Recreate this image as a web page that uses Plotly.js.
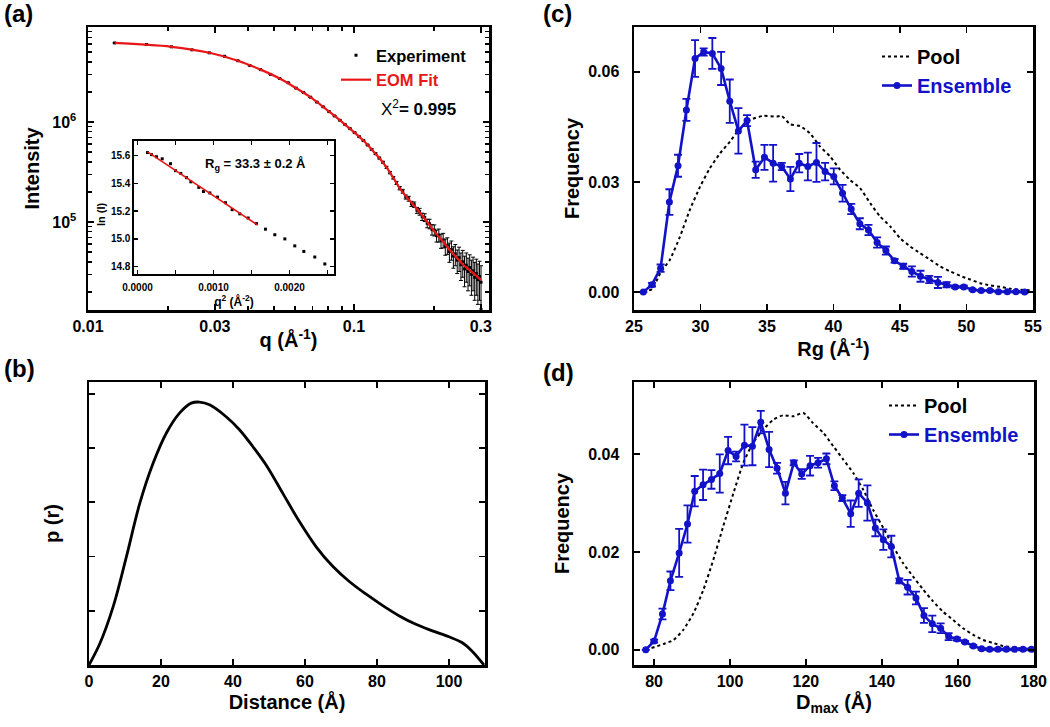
<!DOCTYPE html>
<html><head><meta charset="utf-8">
<script src="https://cdn.plot.ly/plotly-3.0.1.min.js"></script>
<style>html,body{margin:0;padding:0;background:#fff}#chart{width:1050px;height:727px}</style>
</head><body><div id="chart"></div>
<script>
// ---------- Panel (a): SAXS intensity ----------
const qExp = [0.0126,0.0166,0.0206,0.0246,0.0286,0.0326,0.0366,0.0406,0.0446,0.0486,
0.0526,0.0566,0.0606,0.0646,0.0686,0.0726,0.0766,0.0806,0.0846,0.0886,
0.0926,0.0966,0.1006,0.1046,0.1086,0.1126,0.1166,0.1206,0.1246,0.1286,
0.1326,0.1366,0.1406,0.1446,0.1486,0.1526,0.1566,0.1606,0.1646,0.1686,
0.1726,0.1766,0.1806,0.1846,0.1886,0.1926,0.1966,0.2006,0.2046,0.2086,
0.2126,0.2166,0.2206,0.2246,0.2286,0.2326,0.2366,0.2406,0.2446,0.2486,
0.2526,0.2566,0.2606,0.2646,0.2686,0.2726,0.2766,0.2806,0.2846,0.2886,
0.2926,0.2966,0.3006];
const iExp = [6.17e6,5.96e6,5.65e6,5.27e6,4.92e6,4.54e6,4.10e6,3.67e6,3.34e6,2.99e6,
2.72e6,2.47e6,2.18e6,1.97e6,1.77e6,1.58e6,1.42e6,1.27e6,1.15e6,1.04e6,
9.42e5,8.59e5,7.83e5,7.14e5,6.52e5,5.89e5,5.32e5,4.82e5,4.36e5,3.96e5,
3.52e5,3.12e5,2.77e5,2.46e5,2.18e5,2.03e5,1.78e5,1.71e5,1.52e5,1.49e5,
1.31e5,1.27e5,1.13e5,1.11e5,9.7e4,9.6e4,8.4e4,8.3e4,7.3e4,7.4e4,
6.5e4,6.6e4,5.7e4,5.85e4,5.05e4,5.3e4,4.55e4,4.8e4,4.15e4,4.4e4,
3.75e4,4.0e4,3.4e4,3.7e4,3.2e4,3.5e4,3.0e4,3.25e4,2.8e4,3.05e4,
2.65e4,2.85e4,2.5e4];
const errExp = [2.0e4,2.0e4,1.9e4,1.8e4,1.7e4,1.6e4,1.5e4,1.4e4,1.3e4,1.2e4,
1.2e4,1.1e4,1.1e4,1.0e4,1.0e4,9e3,9e3,9e3,8e3,8e3,
8e3,8e3,8e3,8e3,8e3,8e3,8e3,8e3,8e3,8e3,
8e3,8.5e3,8e3,9e3,8.5e3,9e3,8.5e3,9.5e3,9e3,9.5e3,
9e3,1.0e4,9.5e3,1.0e4,9.5e3,1.05e4,1.0e4,1.05e4,1.0e4,1.1e4,
1.05e4,1.1e4,1.05e4,1.1e4,1.1e4,1.15e4,1.1e4,1.15e4,1.1e4,1.2e4,
1.15e4,1.2e4,1.15e4,1.2e4,1.15e4,1.2e4,1.15e4,1.2e4,1.15e4,1.2e4,
1.15e4,1.2e4,1.15e4];
const fitQ = [0.0126,0.0206,0.0286,0.0366,0.0446,0.0526,0.0606,0.0686,0.0766,0.0846,
0.0926,0.1006,0.1086,0.1166,0.1246,0.1326,0.1406,0.1486,0.1566,0.1646,
0.1726,0.1806,0.1886,0.1966,0.2046,0.2126,0.2206,0.2286,0.2366,0.2446,
0.2526,0.2606,0.2686,0.2766,0.2846,0.2926,0.3006];
const fitI = [6.17e6,5.65e6,4.92e6,4.10e6,3.34e6,2.72e6,2.18e6,1.77e6,1.42e6,1.15e6,
9.42e5,7.83e5,6.52e5,5.32e5,4.36e5,3.52e5,2.77e5,2.18e5,1.82e5,1.56e5,
1.35e5,1.16e5,1.00e5,8.65e4,7.57e4,6.71e4,5.96e4,5.30e4,4.79e4,4.35e4,
3.96e4,3.63e4,3.40e4,3.19e4,2.99e4,2.81e4,2.63e4];
const xTicksA = [0.01,0.03,0.1,0.3];
const xTickTextA = ['0.01','0.03','0.1','0.3'];
const yTicksA = [1e5,1e6];
const yTickTextA = ['10<sup>5</sup>','10<sup>6</sup>'];

// Inset (Guinier)
const insetQ2 = [0.000132,0.000184,0.000250,0.000325,0.000434,0.000500,0.000570,0.000645,0.000702,0.000807,
0.000868,0.000952,0.001053,0.001158,0.001246,0.001346,0.001456,0.001566,0.001684,0.001807,
0.001939,0.002070,0.002189,0.002333,0.002465];
const insetLnI = [15.62,15.605,15.59,15.575,15.54,15.49,15.47,15.44,15.41,15.37,
15.34,15.33,15.30,15.26,15.21,15.18,15.15,15.11,15.07,15.03,
15.00,14.95,14.91,14.87,14.82];
const insetFitQ2 = [0.000132,0.00158];
const insetFitLnI = [15.625,15.10];
const insetXTicks = [0,0.001,0.002];
const insetXTickText = ['0.0000','0.0010','0.0020'];
const insetYTicks = [14.8,15.0,15.2,15.4,15.6];
const insetYTickText = ['14.8','15.0','15.2','15.4','15.6'];

// ---------- Panel (b): p(r) ----------
const prR = [0,3.05,6.74,10.4,14.1,17.8,21.5,25.2,28.4,30.7,33.5,38.1,41.8,45.5,49.2,53.8,58.4,63.1,67.7,72.3,76.9,81.5,86.1,90.8,95.4,100,103.7,106.5,109.7];
const prP = [0,0.40,1.08,2.0,2.98,3.72,4.28,4.65,4.83,4.85,4.80,4.58,4.34,4.03,3.69,3.17,2.65,2.18,1.82,1.54,1.31,1.10,0.91,0.75,0.63,0.52,0.41,0.25,0];

// ---------- Panel (c): Rg distribution ----------
const rgPoolX = [25.7,26.35,27.0,27.7,28.46,29.2,29.97,30.7,31.47,32.22,32.98,33.73,34.73,35.73,36.1,36.74,37.49,38.24,39.0,39.75,40.5,41.25,42.0,42.76,43.5,44.26,45.0,45.77,46.5,47.27,48.0,48.78,49.53,50.28,51.03,51.79,52.54,53.3,54.04,54.8];
const rgPoolY = [0.000,0.0008,0.0053,0.0088,0.0151,0.0224,0.0287,0.0337,0.0378,0.0410,0.0446,0.0469,0.0480,0.0478,0.0480,0.0457,0.0452,0.0432,0.0396,0.0369,0.0333,0.0305,0.0283,0.0242,0.0206,0.0179,0.0147,0.0124,0.0106,0.0088,0.0070,0.0056,0.0044,0.0034,0.0024,0.0018,0.0014,0.0009,0.0006,0.0005];
const rgEnsX = [25.7,26.35,27.0,27.66,28.31,28.94,29.59,30.24,30.89,31.55,32.2,32.85,33.5,34.15,34.81,35.46,36.11,36.76,37.42,38.07,38.72,39.37,40.02,40.68,41.33,41.98,42.63,43.28,43.94,44.59,45.24,45.89,46.54,47.2,47.85,48.5,49.15,49.8,50.46,51.1,51.76,52.4,53.07,53.72,54.37];
const rgEnsY = [0.000,0.0020,0.0065,0.0245,0.0344,0.0496,0.0636,0.0654,0.0650,0.0609,0.0520,0.0439,0.0467,0.0333,0.0367,0.0351,0.0342,0.0308,0.0351,0.0342,0.0353,0.0328,0.0315,0.0269,0.0226,0.0186,0.0169,0.0135,0.0113,0.0085,0.0070,0.0056,0.0043,0.0034,0.0026,0.0020,0.0014,0.0014,0.0006,0.0004,0.0004,0.0001,0.0001,0.0001,0.0000];
const rgEnsErr = [0,0.0005,0.001,0.0035,0.003,0.003,0.005,0.001,0.0042,0.0045,0.0059,0.0062,0.0015,0.0022,0.0034,0.005,0.001,0.0033,0.0025,0.0038,0.0053,0.0024,0.0022,0.0023,0.0014,0.0015,0.0014,0.0014,0.0011,0.0005,0.0007,0.0014,0.0015,0.001,0.0015,0.0007,0.0003,0.0003,0.0002,0.0002,0.0002,0.0002,0.0002,0.0002,0.0002];
const xTicksC = [25,30,35,40,45,50,55];
const yTicksC = [0,0.03,0.06];
const yTickTextC = ['0.00','0.03','0.06'];

// ---------- Panel (d): Dmax distribution ----------
const dmPoolX = [77.8,82.5,85.1,87.7,90.4,93.0,95.6,98.2,100.9,103.5,106.1,108.8,111.4,114.0,116.7,119.3,121.9,124.6,127.2,129.8,132.5,135.1,137.7,140.4,143.0,145.6,148.2,150.9,153.5,156.1,158.8,161.4,164.0,166.7,169.3,171.9,174.6,177.2,179.8];
const dmPoolY = [0.000,0.0012,0.0020,0.0041,0.0075,0.0123,0.0184,0.0252,0.0320,0.0382,0.0423,0.0450,0.0470,0.0479,0.0477,0.0484,0.0463,0.0443,0.0416,0.0389,0.0361,0.0327,0.0286,0.0249,0.0211,0.0177,0.0150,0.0123,0.0099,0.0078,0.0061,0.0044,0.0031,0.0020,0.0014,0.0008,0.0005,0.0002,0.0001];
const dmEnsX = [77.8,80,82.2,84.3,86.6,88.8,90.7,92.9,95.1,97.3,99.5,101.6,103.8,105.9,108.1,110.3,112.4,114.6,116.8,118.9,121.1,123.2,125.4,127.5,129.6,131.8,133.9,136.2,138.3,140.4,142.5,144.6,146.8,149.0,151.1,153.3,155.5,157.6,159.8,161.9,164.1,166.3,168.4,170.6,172.8,175.0,177.2,179.4];
const dmEnsY = [0,0.0018,0.0073,0.0141,0.0198,0.0257,0.0324,0.0337,0.0348,0.0360,0.0407,0.0395,0.0418,0.0416,0.0465,0.0409,0.0371,0.0320,0.0382,0.0359,0.0376,0.0382,0.0390,0.0335,0.0310,0.0278,0.0320,0.0300,0.0249,0.0225,0.0211,0.0141,0.0128,0.0106,0.0070,0.0053,0.0044,0.0027,0.0022,0.0016,0.0008,0.0002,0.0001,0.0001,0.0001,0.0001,0.0001,0.0001];
const dmEnsErr = [0,0.0003,0.0011,0.0019,0.0049,0.0038,0.0031,0.0031,0.0019,0.0039,0.0028,0.001,0.0042,0.0039,0.0023,0.0036,0.0011,0.0023,0.0005,0.001,0.002,0.001,0.0011,0.0009,0.0006,0.0027,0.0028,0.0036,0.0017,0.0021,0.0022,0.0005,0.0015,0.0013,0.0015,0.0017,0.001,0.0007,0.0003,0.0002,0.0002,0.0002,0.0002,0.0002,0.0002,0.0002,0.0002,0.0002];
const xTicksD = [80,100,120,140,160,180];
const yTicksD = [0,0.02,0.04];
const yTickTextD = ['0.00','0.02','0.04'];

// ---------- styling ----------
const FONT = 'Liberation Sans, Arial, Helvetica, sans-serif';
const BLUE = 'rgb(18,18,200)';
const RED = 'rgb(232,22,22)';
const W = 1050, H = 727;
const px = v => v / W;
const py = v => 1 - v / H;

function ax(extra) {
  return Object.assign({
    showline: true, linecolor: 'black', linewidth: 2.5, mirror: 'ticks',
    ticks: 'inside', ticklen: 6, tickwidth: 1.8, tickcolor: 'black',
    showgrid: false, zeroline: false, fixedrange: true,
    tickfont: {family: FONT, size: 16, color: 'black', weight: 'bold'}
  }, extra);
}
function ttl(text, size, standoff) {
  return {text: text, font: {family: FONT, size: size, color: 'black', weight: 'bold'}, standoff: standoff};
}
const minorStyle = {ticks: 'inside', ticklen: 4, tickwidth: 1.5, tickcolor: 'black'};

const traces = [
  {x: qExp, y: iExp, xaxis: 'x', yaxis: 'y', type: 'scatter', mode: 'markers', name: 'Experiment',
   marker: {symbol: 'square', size: 3, color: 'black'},
   error_y: {type: 'data', array: errExp, color: 'black', thickness: 1, width: 2}, legend: 'legend'},
  {x: fitQ, y: fitI, xaxis: 'x', yaxis: 'y', type: 'scatter', mode: 'lines',
   name: '<span style="color:' + RED + '">EOM Fit</span>',
   line: {color: RED, width: 2.2, shape: 'spline'}, legend: 'legend'},
  {x: insetQ2, y: insetLnI, xaxis: 'x5', yaxis: 'y5', type: 'scatter', mode: 'markers',
   marker: {symbol: 'square', size: 3, color: 'black'}, showlegend: false},
  {x: insetFitQ2, y: insetFitLnI, xaxis: 'x5', yaxis: 'y5', type: 'scatter', mode: 'lines',
   line: {color: RED, width: 1.6}, showlegend: false},
  {x: prR, y: prP, xaxis: 'x2', yaxis: 'y2', type: 'scatter', mode: 'lines',
   line: {color: 'black', width: 2.8, shape: 'spline', smoothing: 1}, showlegend: false},
  {x: rgPoolX, y: rgPoolY, xaxis: 'x3', yaxis: 'y3', type: 'scatter', mode: 'lines', name: 'Pool',
   line: {color: 'black', width: 2, dash: 'dot', shape: 'spline', smoothing: 0.5}, legend: 'legend2'},
  {x: rgEnsX, y: rgEnsY, xaxis: 'x3', yaxis: 'y3', type: 'scatter', mode: 'lines+markers',
   name: '<span style="color:' + BLUE + '">Ensemble</span>',
   line: {color: BLUE, width: 2.6}, marker: {color: BLUE, size: 7},
   error_y: {type: 'data', array: rgEnsErr, color: BLUE, thickness: 1.8, width: 4}, legend: 'legend2'},
  {x: dmPoolX, y: dmPoolY, xaxis: 'x4', yaxis: 'y4', type: 'scatter', mode: 'lines', name: 'Pool',
   line: {color: 'black', width: 2, dash: 'dot', shape: 'spline', smoothing: 0.5}, legend: 'legend3'},
  {x: dmEnsX, y: dmEnsY, xaxis: 'x4', yaxis: 'y4', type: 'scatter', mode: 'lines+markers',
   name: '<span style="color:' + BLUE + '">Ensemble</span>',
   line: {color: BLUE, width: 2.6}, marker: {color: BLUE, size: 7},
   error_y: {type: 'data', array: dmEnsErr, color: BLUE, thickness: 1.8, width: 4}, legend: 'legend3'}
];

const legBase = (x, y, size) => ({
  x: x, y: y, xanchor: 'left', yanchor: 'top', bgcolor: 'rgba(0,0,0,0)', borderwidth: 0,
  font: {family: FONT, size: size, color: 'black', weight: 'bold'}, itemwidth: 30
});

const layout = {
  width: W, height: H, autosize: false,
  margin: {l: 0, r: 0, t: 0, b: 0, pad: 0},
  paper_bgcolor: 'white', plot_bgcolor: 'rgba(0,0,0,0)',
  showlegend: true,
  // (a)
  xaxis: ax({domain: [px(88), px(489)], anchor: 'y', type: 'log', range: [-2, -0.492],
    tickmode: 'array', tickvals: xTicksA, ticktext: xTickTextA, ticklabelstandoff: 0,
    minor: Object.assign({tickmode: 'array', tickvals: [0.02,0.04,0.05,0.06,0.07,0.08,0.09,0.2]}, minorStyle),
    title: ttl('q (Å<sup>-1</sup>)', 20, 0)}),
  yaxis: ax({domain: [py(310), py(27)], anchor: 'x', type: 'log', range: [4.12, 6.95],
    tickmode: 'array', tickvals: yTicksA, ticktext: yTickTextA, ticklabelstandoff: 6,
    minor: Object.assign({tickmode: 'array', tickvals: [2e4,3e4,4e4,5e4,6e4,7e4,8e4,9e4,2e5,3e5,4e5,5e5,6e5,7e5,8e5,9e5,2e6,3e6,4e6,5e6,6e6,7e6,8e6]}, minorStyle),
    title: ttl('Intensity', 20, 8)}),
  // (b)
  xaxis2: ax({domain: [px(89), px(485)], anchor: 'y2', range: [0, 110],
    tickmode: 'array', tickvals: [0,20,40,60,80,100], ticklabelstandoff: 0,
    title: ttl('Distance (Å)', 20, 0)}),
  yaxis2: ax({domain: [py(665), py(382)], anchor: 'x2', range: [0, 5.22],
    tickmode: 'array', tickvals: [1,2,3,4,5], showticklabels: false,
    title: ttl('p (r)', 20, 22)}),
  // (c)
  xaxis3: ax({domain: [px(634), px(1033)], anchor: 'y3', range: [25, 55],
    tickmode: 'array', tickvals: xTicksC, ticklabelstandoff: 0,
    title: ttl('Rg (Å<sup>-1</sup>)', 20, 0)}),
  yaxis3: ax({domain: [py(310), py(27)], anchor: 'x3', range: [-0.0049, 0.0722],
    tickmode: 'array', tickvals: yTicksC, ticktext: yTickTextC, ticklabelstandoff: 9,
    title: ttl('Frequency', 20, 3)}),
  // (d)
  xaxis4: ax({domain: [px(634), px(1034)], anchor: 'y4', range: [74.7, 180.1],
    tickmode: 'array', tickvals: xTicksD, ticklabelstandoff: 0,
    title: ttl('D<sub>max</sub> (Å)', 20, 0)}),
  yaxis4: ax({domain: [py(665), py(382)], anchor: 'x4', range: [-0.0031, 0.0547],
    tickmode: 'array', tickvals: yTicksD, ticktext: yTickTextD, ticklabelstandoff: 9,
    title: ttl('Frequency', 20, 13)}),
  // inset
  xaxis5: ax({domain: [px(134), px(334)], anchor: 'y5', range: [-0.000046, 0.002586],
    linewidth: 1.6, ticklen: 4, tickwidth: 1.2,
    tickmode: 'array', tickvals: insetXTicks, ticktext: insetXTickText,
    minor: {tickmode: 'array', tickvals: [0.0005,0.0015,0.0025], ticks: 'inside', ticklen: 4, tickwidth: 1.2, tickcolor: 'black'},
    tickfont: {family: FONT, size: 10, color: 'black', weight: 'bold'}, ticklabelstandoff: 3,
    title: ttl('q<sup>2</sup> (Å<sup>-2</sup>)', 12, 0)}),
  yaxis5: ax({domain: [py(274), py(141)], anchor: 'x5', range: [14.748, 15.703],
    linewidth: 1.6, ticklen: 4, tickwidth: 1.2,
    tickmode: 'array', tickvals: insetYTicks, ticktext: insetYTickText,
    tickfont: {family: FONT, size: 10, color: 'black', weight: 'bold'}, ticklabelstandoff: 0}),
  legend: legBase(px(336), py(38), 16.5),
  legend2: legBase(px(877), py(37), 20),
  legend3: legBase(px(884), py(386), 20),
  annotations: [
    {text: '<b>(a)</b>', x: px(2), y: py(14), xref: 'paper', yref: 'paper', xanchor: 'left', yanchor: 'middle', showarrow: false, font: {family: FONT, size: 24, color: 'black'}},
    {text: '<b>(b)</b>', x: px(2), y: py(368), xref: 'paper', yref: 'paper', xanchor: 'left', yanchor: 'middle', showarrow: false, font: {family: FONT, size: 24, color: 'black'}},
    {text: '<b>(c)</b>', x: px(541), y: py(14), xref: 'paper', yref: 'paper', xanchor: 'left', yanchor: 'middle', showarrow: false, font: {family: FONT, size: 24, color: 'black'}},
    {text: '<b>(d)</b>', x: px(541), y: py(372), xref: 'paper', yref: 'paper', xanchor: 'left', yanchor: 'middle', showarrow: false, font: {family: FONT, size: 24, color: 'black'}},
    {text: 'X<sup>2</sup><b>= 0.995</b>', x: px(379), y: py(108), xref: 'paper', yref: 'paper', xanchor: 'left', yanchor: 'middle', showarrow: false, font: {family: FONT, size: 17, color: 'black'}},
    {text: '<b>R<sub>g</sub> = 33.3 ± 0.2 Å</b>', x: px(203), y: py(164), xref: 'paper', yref: 'paper', xanchor: 'left', yanchor: 'middle', showarrow: false, font: {family: FONT, size: 13, color: 'black'}},
    {text: '<b>ln (I)</b>', x: px(101), y: py(214), xref: 'paper', yref: 'paper', xanchor: 'center', yanchor: 'middle', textangle: -90, showarrow: false, font: {family: FONT, size: 11, color: 'black'}}
  ]
};

Plotly.newPlot('chart', traces, layout, {displayModeBar: false, staticPlot: true});
</script></body></html>
